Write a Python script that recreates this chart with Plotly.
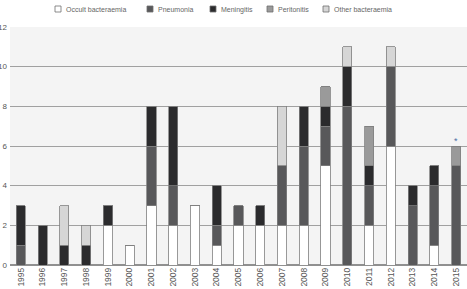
import plotly.graph_objects as go

years = list(range(1995, 2016))
year_labels = [str(y) for y in years]
occult      = [0,0,0,0,2,1,3,2,3,1,2,2,2,2,5,0,2,6,0,1,0]
pneumonia   = [1,0,0,0,0,0,3,2,0,1,1,0,3,4,2,8,2,4,3,3,5]
meningitis  = [2,2,1,1,1,0,2,4,0,2,0,1,0,2,1,2,1,0,1,1,0]
peritonitis = [0,0,0,0,0,0,0,0,0,0,0,0,0,0,1,0,2,0,0,0,1]
other       = [0,0,2,1,0,0,0,0,0,0,0,0,3,0,0,1,0,1,0,0,0]

series_names = ["Occult bacteraemia", "Pneumonia", "Meningitis", "Peritonitis", "Other bacteraemia"]
series_vals = [occult, pneumonia, meningitis, peritonitis, other]
series_cols = ["#ffffff", "#58585a", "#2b2b2d", "#9a9a9a", "#d6d6d6"]

W, H = 467, 289
ML, MR, MT, MB = 10, 0, 27, 24
PW, PH = W - ML - MR, H - MT - MB

def px_x(px):
    return (px - ML) / PW

def px_y(py):
    return 1 + (MT - py) / PH

fig = go.Figure()
for name, vals, col in zip(series_names, series_vals, series_cols):
    fig.add_trace(go.Bar(
        x=years, y=vals, name=name,
        marker=dict(color=col, line=dict(color="#808080", width=0.8)),
    ))

totals = [sum(v) for v in zip(*series_vals)]
fig.add_annotation(x=years[-1], y=totals[-1], text="*", showarrow=False,
                   yshift=5, font=dict(size=9, color="#4a6fa5"))

# custom legend row (marker squares + labels)
legend_marker_px = [55, 147, 210, 267, 323]
for name, col, mx in zip(series_names, series_cols, legend_marker_px):
    fig.add_shape(type="rect", xref="paper", yref="paper",
                  x0=px_x(mx), x1=px_x(mx + 6), y0=px_y(12), y1=px_y(6),
                  fillcolor=col, line=dict(color="#707070", width=0.8))
    fig.add_annotation(xref="paper", yref="paper", x=px_x(mx + 9), y=px_y(9.5),
                       xanchor="left", yanchor="middle", showarrow=False,
                       text=name, font=dict(size=7, color="#666"))

fig.update_layout(
    barmode="stack",
    bargap=0.58,
    width=W, height=H,
    margin=dict(l=ML, r=MR, t=MT, b=MB, autoexpand=False),
    paper_bgcolor="#ffffff",
    plot_bgcolor="#f4f4f4",
    font=dict(family="Liberation Sans, Arial, sans-serif", size=8, color="#555"),
    showlegend=False,
    xaxis=dict(range=[1994.5, 2015.5], tickmode="array", tickvals=years, ticktext=year_labels,
               tickangle=-90, showgrid=False, ticks="", zeroline=False,
               tickfont=dict(size=8.5, color="#555"), showline=False),
    yaxis=dict(range=[0, 12], dtick=2, showgrid=True, gridcolor="#a0a0a0", gridwidth=1,
               zeroline=True, zerolinecolor="#909090", zerolinewidth=1.5,
               tickfont=dict(size=8, color="#555"), ticks="", ticklabelstandoff=2),
)

fig.write_html("out.html")
